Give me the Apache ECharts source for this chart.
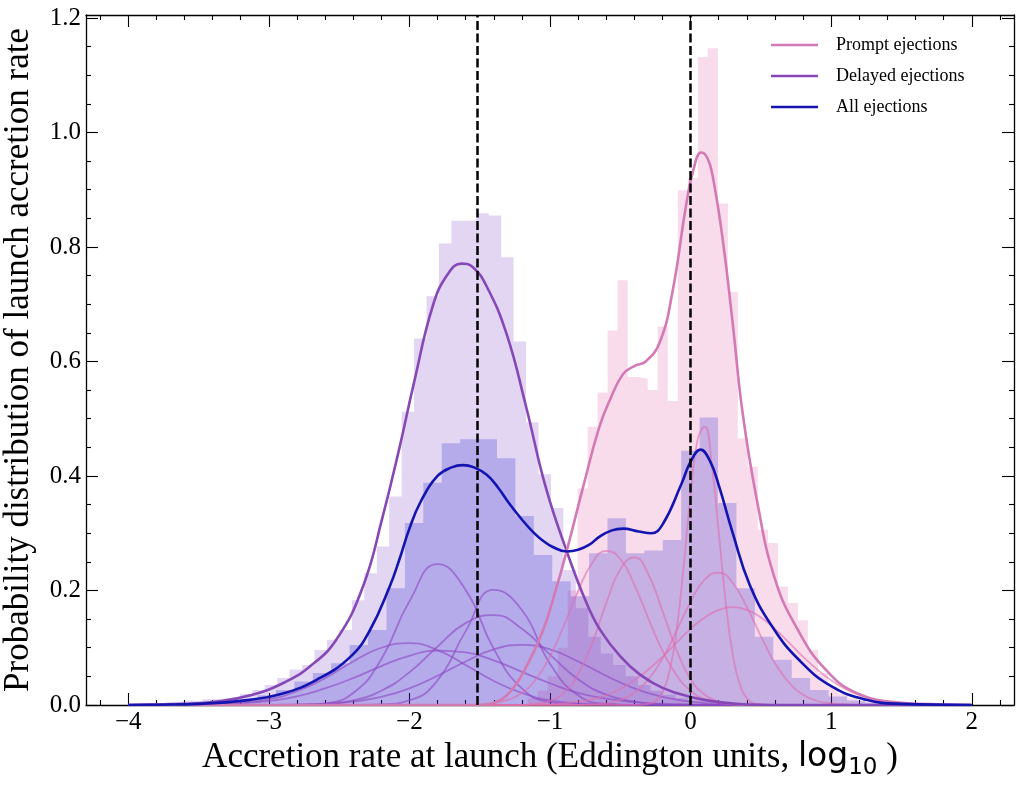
<!DOCTYPE html>
<html>
<head>
<meta charset="utf-8">
<script src="https://cdn.jsdelivr.net/npm/echarts@6/dist/echarts.min.js"></script>
<style>
  html, body { margin: 0; padding: 0; background: #fff; }
  #chart { width: 1024px; height: 786px; }
</style>
</head>
<body>
<div id="chart"></div>
<script>
// ---- histogram bins (edges + heights) ----
const delayedEdges = [-3.737, -3.648, -3.560, -3.471, -3.383, -3.294, -3.206, -3.117, -3.029, -2.940,
  -2.852, -2.763, -2.675, -2.586, -2.498, -2.409, -2.321, -2.232, -2.144, -2.055,
  -1.967, -1.878, -1.790, -1.701, -1.613, -1.524, -1.436, -1.347, -1.259, -1.170,
  -1.082, -0.993, -0.905, -0.816, -0.728, -0.639, -0.551, -0.462, -0.374, -0.285,
  -0.197, -0.108, -0.020, 0.069, 0.158];
const delayedHist = [0.005, 0.008, 0.006, 0.010, 0.012, 0.015, 0.019, 0.026, 0.035, 0.047,
  0.062, 0.070, 0.096, 0.114, 0.131, 0.183, 0.230, 0.277, 0.364, 0.512,
  0.640, 0.714, 0.806, 0.846, 0.846, 0.859, 0.855, 0.782, 0.635, 0.494,
  0.403, 0.344, 0.236, 0.169, 0.119, 0.090, 0.070, 0.050, 0.035, 0.025,
  0.018, 0.012, 0.008, 0.005];

const promptEdges = [-1.159, -1.088, -1.017, -0.945, -0.874, -0.803, -0.732, -0.661, -0.590, -0.519,
  -0.447, -0.376, -0.305, -0.234, -0.163, -0.091, -0.020, 0.051, 0.122, 0.194,
  0.265, 0.336, 0.407, 0.478, 0.550, 0.621, 0.692, 0.763, 0.834, 0.906,
  0.977, 1.048, 1.119, 1.190, 1.262, 1.333];
const promptHist = [0.012, 0.025, 0.050, 0.100, 0.200, 0.378, 0.486, 0.546, 0.654, 0.742,
  0.573, 0.570, 0.550, 0.661, 0.531, 0.899, 0.920, 1.132, 1.147, 0.876,
  0.722, 0.466, 0.416, 0.306, 0.283, 0.207, 0.178, 0.148, 0.096, 0.056,
  0.032, 0.020, 0.012, 0.006, 0.003];

const allEdges = [-3.735, -3.604, -3.473, -3.342, -3.211, -3.080, -2.949, -2.818, -2.687, -2.556,
  -2.425, -2.294, -2.163, -2.032, -1.901, -1.770, -1.639, -1.508, -1.377, -1.246,
  -1.115, -0.984, -0.853, -0.722, -0.591, -0.460, -0.329, -0.198, -0.067, 0.064,
  0.195, 0.326, 0.457, 0.588, 0.719, 0.850, 0.981, 1.112, 1.243, 1.374];
const allHist = [0.003, 0.003, 0.005, 0.007, 0.010, 0.017, 0.026, 0.041, 0.056, 0.073,
  0.105, 0.131, 0.204, 0.318, 0.388, 0.457, 0.464, 0.464, 0.431, 0.330,
  0.262, 0.216, 0.190, 0.265, 0.326, 0.265, 0.270, 0.288, 0.444, 0.502,
  0.353, 0.204, 0.119, 0.079, 0.047, 0.026, 0.015, 0.008, 0.004];

// ---- KDE curves [x, y] ----
const delayedKde = [[-4.0, 0], [-3.8, 0.001], [-3.6, 0.002], [-3.37, 0.006], [-3.13, 0.017], [-2.9, 0.038],
  [-2.71, 0.067], [-2.52, 0.114], [-2.33, 0.207], [-2.19, 0.329], [-2.07, 0.45], [-1.97, 0.56],
  [-1.83, 0.70], [-1.72, 0.755], [-1.63, 0.771], [-1.55, 0.765], [-1.45, 0.731], [-1.31, 0.649],
  [-1.17, 0.521], [-1.03, 0.38], [-0.88, 0.268], [-0.74, 0.178], [-0.64, 0.13], [-0.5, 0.085],
  [-0.36, 0.053], [-0.2, 0.03], [0.0, 0.014], [0.2, 0.005], [0.4, 0.001], [0.8, 0], [2.0, 0]];

const promptKde = [[-4.0, 0], [-2.0, 0], [-1.5, 0], [-1.4, 0.004], [-1.29, 0.021], [-1.17, 0.066],
  [-1.05, 0.13], [-0.96, 0.2], [-0.88, 0.27], [-0.76, 0.385], [-0.65, 0.485], [-0.57, 0.535],
  [-0.48, 0.578], [-0.4, 0.592], [-0.32, 0.6], [-0.22, 0.633], [-0.13, 0.72], [-0.03, 0.876],
  [0.02, 0.935], [0.075, 0.965], [0.12, 0.955], [0.16, 0.92], [0.23, 0.81], [0.30, 0.665],
  [0.37, 0.51], [0.47, 0.36], [0.6, 0.22], [0.77, 0.128], [0.96, 0.062], [1.18, 0.021],
  [1.5, 0.004], [1.8, 0.001], [2.0, 0]];

const allKde = [[-4.0, 0], [-3.8, 0.0005], [-3.49, 0.002], [-3.135, 0.009], [-2.9, 0.02], [-2.66, 0.044],
  [-2.42, 0.084], [-2.28, 0.131], [-2.14, 0.207], [-2.07, 0.255], [-2.0, 0.308], [-1.92, 0.355],
  [-1.8, 0.4], [-1.7, 0.415], [-1.62, 0.419], [-1.54, 0.415], [-1.45, 0.402], [-1.37, 0.38],
  [-1.29, 0.352], [-1.2, 0.324], [-1.12, 0.302], [-1.05, 0.287], [-0.98, 0.276], [-0.88, 0.268],
  [-0.8, 0.271], [-0.72, 0.28], [-0.647, 0.294], [-0.56, 0.305], [-0.48, 0.308], [-0.37, 0.303],
  [-0.28, 0.30], [-0.2, 0.315], [-0.067, 0.385], [0.0, 0.425], [0.07, 0.446], [0.14, 0.425],
  [0.205, 0.38], [0.3, 0.30], [0.42, 0.21], [0.58, 0.137], [0.77, 0.079], [1.0, 0.033],
  [1.25, 0.009], [1.5, 0.002], [2.0, 0]];

// ---- mixture components ----
const delayedCompX = [-4.0, -3.8, -3.6, -3.4, -3.2, -3.0, -2.8, -2.6, -2.4, -2.2, -2.0, -1.8, -1.6,
  -1.4, -1.2, -1.0, -0.8, -0.6, -0.4, -0.2, 0.0, 0.2, 0.4, 0.6, 0.8, 1.0];
const delayedComp1 = [0, 0, 0, 0, 0, 0, 0, 0.003, 0.021, 0.080, 0.181, 0.246, 0.201, 0.098, 0.029, 0.005, 0.001, 0, 0, 0, 0, 0, 0, 0, 0, 0];
const delayedComp2 = [0, 0, 0, 0, 0, 0, 0, 0, 0, 0.001, 0.008, 0.043, 0.129, 0.201, 0.166, 0.072, 0.017, 0.002, 0, 0, 0, 0, 0, 0, 0, 0];
const delayedComp3 = [0, 0, 0, 0, 0, 0, 0, 0.002, 0.008, 0.025, 0.057, 0.102, 0.143, 0.157, 0.133, 0.088, 0.045, 0.018, 0.006, 0.001, 0, 0, 0, 0, 0, 0];
const delayedComp4 = [0, 0, 0, 0.001, 0.004, 0.010, 0.024, 0.047, 0.076, 0.100, 0.108, 0.096, 0.070, 0.042, 0.021, 0.008, 0.003, 0.001, 0, 0, 0, 0, 0, 0, 0, 0];
const delayedComp5 = [0, 0, 0, 0.001, 0.003, 0.007, 0.015, 0.029, 0.047, 0.068, 0.086, 0.095, 0.092, 0.078, 0.058, 0.038, 0.021, 0.011, 0.005, 0.002, 0.001, 0, 0, 0, 0, 0];
const delayedComp6 = [0, 0, 0, 0, 0, 0, 0.001, 0.002, 0.006, 0.014, 0.029, 0.051, 0.076, 0.097, 0.105, 0.097, 0.076, 0.051, 0.029, 0.014, 0.006, 0.002, 0.001, 0, 0, 0];

const promptCompX = [-1.6, -1.5, -1.4, -1.3, -1.2, -1.1, -1.0, -0.9, -0.8, -0.7, -0.6, -0.5, -0.4,
  -0.3, -0.2, -0.1, 0.0, 0.1, 0.2, 0.3, 0.4, 0.5, 0.6, 0.7, 0.8, 0.9, 1.0, 1.1, 1.2, 1.3, 1.4,
  1.5, 1.6, 1.7, 1.8];
const promptComp2 = [0, 0.001, 0.003, 0.009, 0.021, 0.045, 0.085, 0.139, 0.199, 0.248, 0.269, 0.255, 0.210, 0.151, 0.095, 0.052, 0.025, 0.010, 0.004, 0.001, 0, 0, 0, 0, 0, 0, 0, 0, 0, 0, 0, 0, 0, 0, 0];
const promptComp3 = [0, 0, 0, 0, 0, 0.002, 0.007, 0.022, 0.054, 0.108, 0.178, 0.237, 0.258, 0.228, 0.164, 0.096, 0.045, 0.018, 0.006, 0.001, 0, 0, 0, 0, 0, 0, 0, 0, 0, 0, 0, 0, 0, 0, 0];
const promptComp4 = [0, 0, 0, 0, 0, 0, 0, 0, 0, 0.001, 0.003, 0.009, 0.021, 0.045, 0.081, 0.130, 0.180, 0.219, 0.231, 0.213, 0.171, 0.120, 0.073, 0.039, 0.018, 0.007, 0.003, 0.001, 0, 0, 0, 0, 0, 0, 0];
const promptComp5 = [0, 0, 0, 0, 0, 0.001, 0.001, 0.003, 0.006, 0.010, 0.017, 0.028, 0.043, 0.062, 0.084, 0.109, 0.133, 0.153, 0.166, 0.171, 0.166, 0.153, 0.133, 0.109, 0.084, 0.062, 0.043, 0.028, 0.017, 0.010, 0.006, 0.003, 0.001, 0.001, 0];
// narrow peak near 0 gets its own finer sampling
const promptComp1 = [[-0.4, 0], [-0.3, 0.002], [-0.25, 0.007], [-0.2, 0.022], [-0.15, 0.059], [-0.1, 0.130],
  [-0.05, 0.241], [0.0, 0.367], [0.05, 0.464], [0.1, 0.486], [0.15, 0.421], [0.2, 0.302],
  [0.25, 0.179], [0.3, 0.088], [0.35, 0.036], [0.4, 0.012], [0.45, 0.003], [0.5, 0.001], [0.6, 0]];

// ---- axes ticks, reference lines, legend ----
const xMajor = [-4, -3, -2, -1, 0, 1, 2];
const xMinor = [-4.2, -3.8, -3.6, -3.4, -3.2, -2.8, -2.6, -2.4, -2.2, -1.8, -1.6, -1.4, -1.2,
  -0.8, -0.6, -0.4, -0.2, 0.2, 0.4, 0.6, 0.8, 1.2, 1.4, 1.6, 1.8, 2.2];
const yMajor = [0, 0.2, 0.4, 0.6, 0.8, 1.0, 1.2];
const yMinor = [0.05, 0.1, 0.15, 0.25, 0.3, 0.35, 0.45, 0.5, 0.55, 0.65, 0.7, 0.75, 0.85, 0.9,
  0.95, 1.05, 1.1, 1.15];
const refLines = [-1.52, 0];
const seriesNames = ['Prompt ejections', 'Delayed ejections', 'All ejections'];

const SERIF = 'Liberation Serif';
const C_PROMPT = '#d37ab4';
const C_DELAYED = '#8647b7';
const C_ALL = '#1414b0';

function pairs(xs, ys) {
  return xs.map((x, i) => [x, ys[i]]);
}
function withEnds(pts) {
  const out = pts.slice();
  if (out[0][0] > -4) out.unshift([-4, 0]);
  if (out[out.length - 1][0] < 2) out.push([2, 0]);
  return out;
}

function histSeries(edges, heights, color, z) {
  const pts = heights.map((h, i) => [edges[i], h]);
  pts.push([edges[edges.length - 1], heights[heights.length - 1]]);
  return {
    type: 'line', step: 'end', data: pts, symbol: 'none', silent: true, z: z,
    lineStyle: { width: 0, opacity: 0 },
    areaStyle: { color: color, opacity: 0.2 }
  };
}
function compSeries(data, color) {
  return {
    type: 'line', data: withEnds(data), smooth: 0.5, symbol: 'none', silent: true, z: 3,
    lineStyle: { color: color, width: 1.8 }
  };
}
function kdeSeries(name, data, color) {
  return {
    name: name, type: 'line', data: data, smooth: 0.45, symbol: 'none', z: 4,
    lineStyle: { color: color, width: 2.6 },
    itemStyle: { color: color }
  };
}

function xAxisDef(pos, ticks, len, showLine, showLabel) {
  return {
    type: 'value', min: -4.3, max: 2.3, position: pos,
    axisLine: { show: showLine, onZero: false, lineStyle: { color: '#000', width: 1.3 } },
    axisTick: { show: true, inside: true, length: len, customValues: ticks,
      lineStyle: { color: '#000', width: 1.1 } },
    axisLabel: showLabel ? {
      customValues: xMajor, margin: 5, fontFamily: SERIF, fontSize: 25, color: '#000',
      formatter: v => (v < 0 ? '\u2212' + Math.abs(v) : String(v))
    } : { show: false },
    splitLine: { show: false }
  };
}
function yAxisDef(pos, ticks, len, showLine, showLabel) {
  return {
    type: 'value', min: 0, max: 1.2052, position: pos,
    axisLine: { show: showLine, onZero: false, lineStyle: { color: '#000', width: 1.3 } },
    axisTick: { show: true, inside: true, length: len, customValues: ticks,
      lineStyle: { color: '#000', width: 1.1 } },
    axisLabel: showLabel ? {
      customValues: yMajor, margin: 5, fontFamily: SERIF, fontSize: 25, color: '#000',
      formatter: v => v.toFixed(1)
    } : { show: false },
    splitLine: { show: false }
  };
}

const xMain = xAxisDef('bottom', xMajor, 12, true, true);
xMain.name = '{t|Accretion rate at launch (Eddington units, }{m|log}{s|10}{t| )}';
xMain.nameLocation = 'middle';
xMain.nameGap = 30;
xMain.nameTextStyle = {
  color: '#000',
  rich: {
    t: { fontFamily: SERIF, fontSize: 35, lineHeight: 44, color: '#000' },
    m: { fontFamily: 'DejaVu Sans', fontSize: 33, lineHeight: 44, color: '#000' },
    s: { fontFamily: 'DejaVu Sans', fontSize: 23, lineHeight: 23, verticalAlign: 'bottom', color: '#000' }
  }
};

const yMain = yAxisDef('left', yMajor, 12, true, true);
yMain.name = 'Probability distribution of launch accretion rate';
yMain.nameLocation = 'middle';
yMain.nameGap = 40;
yMain.nameTextStyle = { fontFamily: SERIF, fontSize: 35, lineHeight: 40, color: '#000' };

const chart = echarts.init(document.getElementById('chart'), null, { renderer: 'canvas' });

const series = [
  histSeries(delayedEdges, delayedHist, 'rgb(115,50,195)', 1),
  histSeries(promptEdges, promptHist, 'rgb(220,80,160)', 1),
  histSeries(allEdges, allHist, 'rgb(0,0,200)', 1)
];
[delayedComp1, delayedComp2, delayedComp3, delayedComp4, delayedComp5, delayedComp6].forEach(c => {
  series.push(compSeries(pairs(delayedCompX, c), 'rgba(140,72,196,0.62)'));
});
series.push(compSeries(promptComp1, 'rgba(222,112,176,0.62)'));
[promptComp2, promptComp3, promptComp4, promptComp5].forEach(c => {
  series.push(compSeries(pairs(promptCompX, c), 'rgba(222,112,176,0.62)'));
});
series.push(kdeSeries(seriesNames[1], delayedKde, C_DELAYED));
series.push(kdeSeries(seriesNames[0], promptKde, C_PROMPT));
const allSeries = kdeSeries(seriesNames[2], allKde, C_ALL);
allSeries.markLine = {
  silent: true, symbol: ['none', 'none'], label: { show: false },
  lineStyle: { color: '#000', width: 2.5, type: [9, 3.5] },
  data: refLines.map(v => ({ xAxis: v }))
};
series.push(allSeries);

chart.setOption({
  animation: false,
  backgroundColor: '#fff',
  grid: { left: 86, right: 10, top: 15, bottom: 81, containLabel: false, outerBoundsMode: 'none' },
  legend: {
    data: seriesNames, orient: 'vertical', left: 766, top: 30,
    icon: 'rect', itemWidth: 47, itemHeight: 2.5, itemGap: 11, selectedMode: false,
    textStyle: { fontFamily: SERIF, fontSize: 18, color: '#000', lineHeight: 20, padding: [0, 0, 0, 13] }
  },
  xAxis: [
    xMain,
    xAxisDef('bottom', xMinor, 5, false, false),
    xAxisDef('top', xMajor, 12, true, false),
    xAxisDef('top', xMinor, 5, false, false)
  ],
  yAxis: [
    yMain,
    yAxisDef('left', yMinor, 5, false, false),
    yAxisDef('right', yMajor, 12, true, false),
    yAxisDef('right', yMinor, 5, false, false)
  ],
  series: series
});
</script>
</body>
</html>
